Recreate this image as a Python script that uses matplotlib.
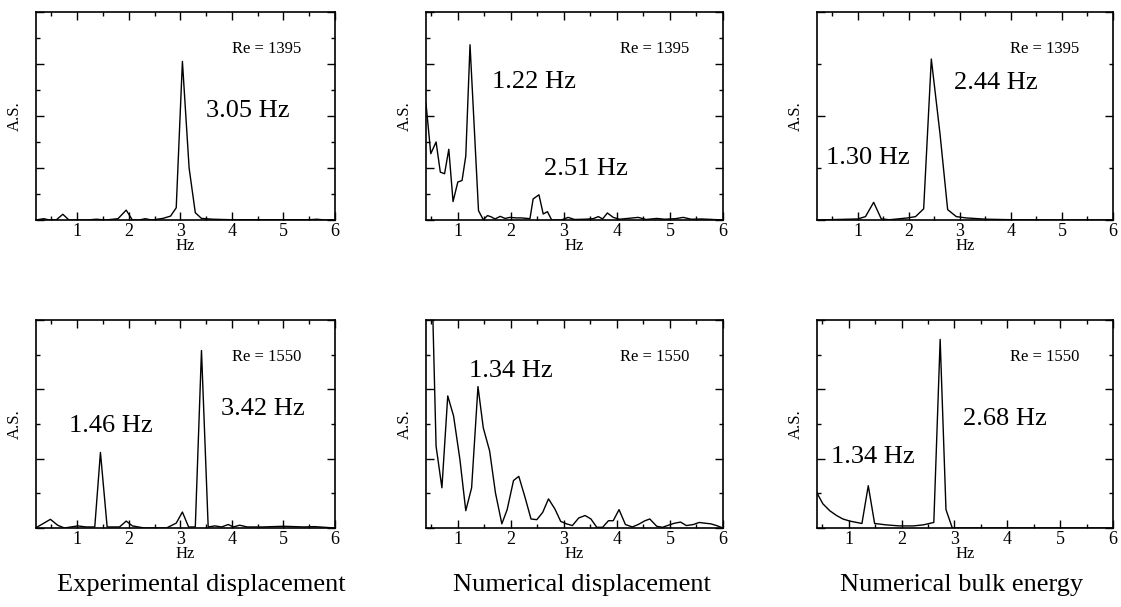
import matplotlib
matplotlib.use("Agg")
import matplotlib.pyplot as plt
from matplotlib.ticker import MultipleLocator, NullFormatter

plt.rcParams['font.family'] = ['Liberation Serif', 'DejaVu Serif']

# spectra (Hz, A.S. in tick units)
exp1395_f = [0.19, 0.35, 0.46, 0.59, 0.72, 0.84, 1.0, 1.2, 1.37, 1.55, 1.79, 1.95, 2.07, 2.2, 2.32,
             2.44, 2.66, 2.81, 2.92, 3.04, 3.17, 3.29, 3.41, 3.63, 4.0, 4.5, 5.0, 5.5, 5.65, 5.8, 6.0]
exp1395_a = [0.0, 0.05, 0.0, 0.0, 0.22, 0.0, 0.0, 0.0, 0.03, 0.0, 0.05, 0.38, 0.0, 0.0, 0.05,
             0.0, 0.06, 0.15, 0.47, 6.1, 2.0, 0.28, 0.06, 0.03, 0.01, 0.01, 0.01, 0.01, 0.03, 0.0, 0.0]

num1395_f = [0.40, 0.49, 0.59, 0.67, 0.75, 0.83, 0.91, 1.0, 1.08, 1.15, 1.23, 1.39, 1.48, 1.56, 1.63,
             1.70, 1.80, 1.89, 1.98, 2.1, 2.2, 2.36, 2.42, 2.53, 2.61, 2.69, 2.77, 2.95, 3.08, 3.2,
             3.4, 3.55, 3.65, 3.73, 3.82, 3.93, 4.05, 4.2, 4.4, 4.55, 4.75, 4.9, 5.1, 5.25, 5.4,
             5.6, 5.8, 6.0]
num1395_a = [4.48, 2.55, 3.0, 1.84, 1.78, 2.72, 0.71, 1.46, 1.52, 2.46, 6.74, 0.36, 0.01, 0.17, 0.12,
             0.04, 0.14, 0.06, 0.1, 0.08, 0.08, 0.05, 0.81, 0.97, 0.23, 0.32, 0.0, 0.0, 0.1, 0.02,
             0.03, 0.05, 0.13, 0.04, 0.27, 0.1, 0.03, 0.06, 0.1, 0.02, 0.06, 0.03, 0.05, 0.1, 0.03,
             0.04, 0.02, 0.0]

bulk1395_f = [0.2, 1.0, 1.15, 1.31, 1.46, 1.62, 1.98, 2.13, 2.29, 2.44, 2.61, 2.76, 2.93, 3.12,
              3.52, 4.04, 5.0, 6.0]
bulk1395_a = [0.0, 0.04, 0.13, 0.68, 0.04, 0.01, 0.08, 0.13, 0.43, 6.19, 3.32, 0.4, 0.13, 0.08,
              0.03, 0.01, 0.0, 0.0]

exp1550_f = [0.19, 0.33, 0.48, 0.62, 0.75, 1.01, 1.17, 1.34, 1.45, 1.58, 1.82, 1.95, 2.07, 2.3,
             2.73, 2.92, 3.04, 3.16, 3.29, 3.41, 3.54, 3.67, 3.8, 3.93, 4.03, 4.15, 4.3, 4.6, 5.0,
             5.4, 5.6, 6.0]
exp1550_a = [0.0, 0.12, 0.25, 0.08, 0.0, 0.06, 0.03, 0.03, 2.18, 0.03, 0.03, 0.2, 0.06, 0.0,
             0.0, 0.14, 0.46, 0.03, 0.03, 5.12, 0.03, 0.06, 0.03, 0.1, 0.03, 0.08, 0.03, 0.03, 0.05,
             0.03, 0.04, 0.0]

num1550_f = [0.40, 0.59, 0.70, 0.81, 0.92, 1.04, 1.15, 1.26, 1.38, 1.48, 1.60, 1.71, 1.83, 1.93,
             2.05, 2.15, 2.27, 2.38, 2.49, 2.60, 2.71, 2.83, 2.94, 3.05, 3.16, 3.28, 3.40, 3.51,
             3.62, 3.73, 3.84, 3.93, 4.04, 4.16, 4.29, 4.40, 4.53, 4.62, 4.75, 4.86, 4.97, 5.09,
             5.20, 5.31, 5.44, 5.55, 5.65, 5.77, 5.88, 6.0]
num1550_a = [14.0, 2.36, 1.16, 3.81, 3.23, 1.97, 0.5, 1.16, 4.08, 2.89, 2.22, 1.01, 0.12, 0.53,
             1.37, 1.49, 0.87, 0.26, 0.24, 0.45, 0.84, 0.55, 0.19, 0.12, 0.07, 0.29, 0.36, 0.26,
             0.02, 0.02, 0.21, 0.21, 0.53, 0.1, 0.03, 0.1, 0.21, 0.26, 0.05, 0.02, 0.08, 0.14,
             0.17, 0.07, 0.1, 0.16, 0.14, 0.12, 0.07, 0.0]

bulk1550_f = [0.40, 0.51, 0.64, 0.77, 0.89, 1.02, 1.15, 1.25, 1.37, 1.49, 1.71, 1.96, 2.22, 2.41,
              2.61, 2.73, 2.84, 2.96, 4.0, 5.0, 5.3, 6.0]
bulk1550_a = [1.01, 0.70, 0.50, 0.36, 0.26, 0.20, 0.16, 0.13, 1.22, 0.13, 0.09, 0.06, 0.06, 0.09,
              0.16, 5.44, 0.53, 0.0, 0.0, 0.0, 0.0, 0.0]

captions = ["Experimental displacement", "Numerical displacement", "Numerical bulk energy"]
caption_x = [201, 582, 962]   # pixel centres

W, H = 1121, 607
fig = plt.figure(figsize=(W / 100, H / 100), dpi=100)

# panel boxes in pixels: left, right, top, bottom
cols = [(36, 335), (426, 723), (817, 1113)]
rows = [(12, 220), (320, 528)]

panels = [
    # row, col, f, a, xmin, ymax, ymajor, yminor, Re, labels
    (0, 0, exp1395_f, exp1395_a, 0.2, 8, 2, 1, "1395", [("3.05 Hz", 0.707, 0.526)]),
    (0, 1, num1395_f, num1395_a, 0.4, 8, 2, 1, "1395", [("1.22 Hz", 0.363, 0.664), ("2.51 Hz", 0.537, 0.246)]),
    (0, 2, bulk1395_f, bulk1395_a, 0.2, 8, 4, 2, "1395", [("2.44 Hz", 0.603, 0.659), ("1.30 Hz", 0.172, 0.297)]),
    (1, 0, exp1550_f, exp1550_a, 0.2, 6, 2, 1, "1550", [("1.46 Hz", 0.251, 0.488), ("3.42 Hz", 0.758, 0.572)]),
    (1, 1, num1550_f, num1550_a, 0.4, 6, 2, 1, "1550", [("1.34 Hz", 0.285, 0.754)]),
    (1, 2, bulk1550_f, bulk1550_a, 0.4, 6, 2, 1, "1550", [("2.68 Hz", 0.636, 0.525), ("1.34 Hz", 0.189, 0.340)]),
]

for r, c, f, a, xmin, ymax, ymaj, ymin_, re, labels in panels:
    l, rr = cols[c]
    t, b = rows[r]
    ax = fig.add_axes([l / W, 1 - b / H, (rr - l) / W, (b - t) / H])
    ax.plot(f, a, color='black', lw=1.0)
    ax.set_xlim(xmin, 6)
    ax.set_ylim(0, ymax)
    ax.xaxis.set_major_locator(MultipleLocator(1))
    ax.xaxis.set_minor_locator(MultipleLocator(0.5))
    ax.yaxis.set_major_locator(MultipleLocator(ymaj))
    ax.yaxis.set_minor_locator(MultipleLocator(ymin_))
    ax.yaxis.set_major_formatter(NullFormatter())
    ax.tick_params(which='both', direction='in', top=True, right=True, width=1.0,
                   labelsize=13, pad=2)
    ax.tick_params(which='major', length=6)
    ax.tick_params(which='minor', length=3)
    for s in ax.spines.values():
        s.set_linewidth(1.2)
    ax.set_xlabel("Hz", fontsize=12)
    ax.xaxis.set_label_coords(0.5, -0.085)
    ax.set_ylabel("A.S.", fontsize=12)
    ax.yaxis.set_label_coords(-0.045, 0.5)
    ax.text(0.77, 0.82, "Re = " + re, transform=ax.transAxes, ha='center', va='center', fontsize=12)
    for txt, x, y in labels:
        ax.text(x, y, txt, transform=ax.transAxes, ha='center', va='center', fontsize=19)

for cx, cap in zip(caption_x, captions):
    fig.text(cx / W, 1 - 585 / H, cap, ha='center', va='center', fontsize=19)

fig.savefig("out.png", dpi=100)
